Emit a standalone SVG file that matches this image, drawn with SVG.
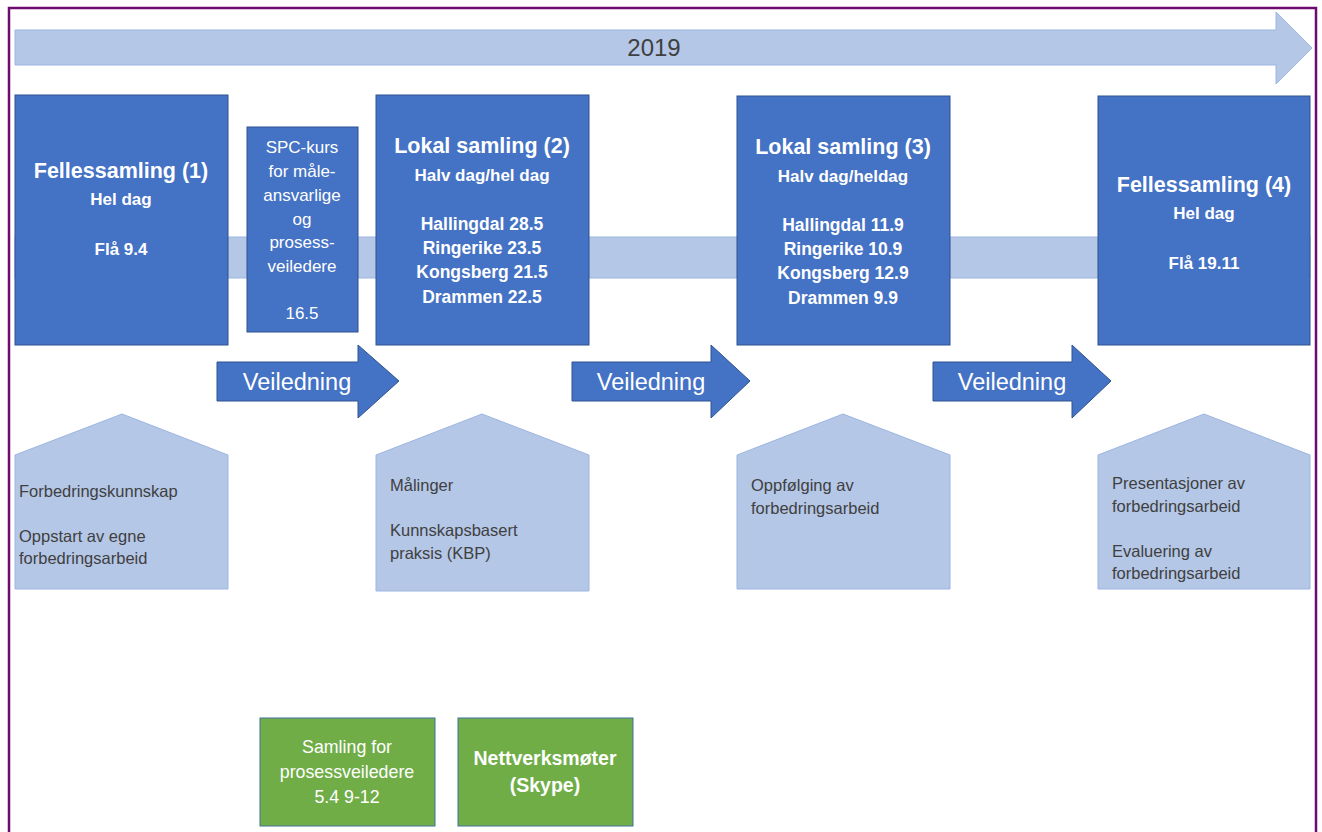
<svg xmlns="http://www.w3.org/2000/svg" width="1322" height="832" viewBox="0 0 1322 832">
<style>
.bg{fill:#ffffff}
.light{fill:#B4C7E7;stroke:#9DB5E0;stroke-width:1}
.box{fill:#4472C4;stroke:#2F528F;stroke-width:1}
.green{fill:#70AD47;stroke:#41719C;stroke-width:1}
text{font-family:"Liberation Sans",Arial,sans-serif}
.t{fill:#ffffff;text-anchor:middle}
.b{font-weight:bold}
.p{fill:#404040;font-size:16.5px}
.v{fill:#ffffff;font-size:23.5px;text-anchor:middle}
</style>
<rect class="bg" x="0" y="0" width="1322" height="832"/>
<rect x="9" y="8" width="1307" height="840" fill="none" stroke="#6E0C6E" stroke-width="2.5"/>
<g id="timeline">
<polygon class="light" points="15,30 1276,30 1276,12 1312,48 1276,84 1276,65 15,65"/>
<text x="654" y="56" font-size="24" fill="#404040" text-anchor="middle">2019</text>
</g>
<g id="band">
<rect x="15" y="237" width="1295" height="41" fill="#B4C7E7" stroke="#9DB5E0" stroke-width="1"/>
</g>
<g id="box1">
<rect class="box" x="15" y="95" width="213" height="250"/>
<text class="t b" x="121" y="178" font-size="21.5">Fellessamling (1)</text>
<text class="t b" x="121" y="205" font-size="17">Hel dag</text>
<text class="t b" x="121" y="255" font-size="17">Flå 9.4</text>
</g>
<g id="spc">
<rect class="box" x="247" y="127" width="111" height="205"/>
<g class="t" font-size="17">
<text x="302" y="153">SPC-kurs</text>
<text x="302" y="177">for måle-</text>
<text x="302" y="201">ansvarlige</text>
<text x="302" y="225">og</text>
<text x="302" y="248">prosess-</text>
<text x="302" y="272">veiledere</text>
<text x="302" y="319">16.5</text>
</g>
</g>
<g id="box2">
<rect class="box" x="376" y="95" width="213" height="250"/>
<text class="t b" x="482" y="153" font-size="21.5">Lokal samling (2)</text>
<text class="t b" x="482" y="181" font-size="17">Halv dag/hel dag</text>
<g class="t b" font-size="17.5">
<text x="482" y="230">Hallingdal 28.5</text>
<text x="482" y="254">Ringerike 23.5</text>
<text x="482" y="278">Kongsberg 21.5</text>
<text x="482" y="303">Drammen 22.5</text>
</g>
</g>
<g id="box3">
<rect class="box" x="737" y="96" width="213" height="249"/>
<text class="t b" x="843" y="154" font-size="21.5">Lokal samling (3)</text>
<text class="t b" x="843" y="182" font-size="17">Halv dag/heldag</text>
<g class="t b" font-size="17.5">
<text x="843" y="231">Hallingdal 11.9</text>
<text x="843" y="255">Ringerike 10.9</text>
<text x="843" y="279">Kongsberg 12.9</text>
<text x="843" y="304">Drammen 9.9</text>
</g>
</g>
<g id="box4">
<rect class="box" x="1098" y="96" width="212" height="249"/>
<text class="t b" x="1204" y="192" font-size="21.5">Fellessamling (4)</text>
<text class="t b" x="1204" y="219" font-size="17">Hel dag</text>
<text class="t b" x="1204" y="269" font-size="17">Flå 19.11</text>
</g>
<g id="connectors">
<g id="arrow1">
<polygon class="box" points="217,362 358,362 358,345 399,381 358,418 358,401 217,401"/>
<text class="v" x="297" y="390">Veiledning</text>
</g>
<g id="arrow2">
<polygon class="box" points="572,362 711,362 711,345 750,381 711,418 711,401 572,401"/>
<text class="v" x="651" y="390">Veiledning</text>
</g>
<g id="arrow3">
<polygon class="box" points="933,362 1072,362 1072,345 1111,381 1072,418 1072,401 933,401"/>
<text class="v" x="1012" y="390">Veiledning</text>
</g>
</g>
<g id="pent1">
<polygon class="light" points="15,455 122,414 228,455 228,589 15,589"/>
<text class="p" x="19" y="497">Forbedringskunnskap</text>
<text class="p" x="19" y="542">Oppstart av egne</text>
<text class="p" x="19" y="564">forbedringsarbeid</text>
</g>
<g id="pent2">
<polygon class="light" points="376,455 482,414 589,455 589,591 376,591"/>
<text class="p" x="390" y="491">Målinger</text>
<text class="p" x="390" y="536">Kunnskapsbasert</text>
<text class="p" x="390" y="559">praksis (KBP)</text>
</g>
<g id="pent3">
<polygon class="light" points="737,455 843,414 950,455 950,589 737,589"/>
<text class="p" x="751" y="491">Oppfølging av</text>
<text class="p" x="751" y="514">forbedringsarbeid</text>
</g>
<g id="pent4">
<polygon class="light" points="1098,455 1204,414 1310,455 1310,589 1098,589"/>
<text class="p" x="1112" y="489">Presentasjoner av</text>
<text class="p" x="1112" y="512">forbedringsarbeid</text>
<text class="p" x="1112" y="557">Evaluering av</text>
<text class="p" x="1112" y="579">forbedringsarbeid</text>
</g>
<g id="green1">
<rect class="green" x="260" y="718" width="175" height="108"/>
<g class="t" font-size="17.8">
<text x="347" y="753">Samling for</text>
<text x="347" y="778">prosessveiledere</text>
<text x="347" y="803">5.4 9-12</text>
</g>
</g>
<g id="green2">
<rect class="green" x="458" y="718" width="175" height="108"/>
<text class="t b" x="545" y="765" font-size="19.5">Nettverksmøter</text>
<text class="t b" x="545" y="792" font-size="19.5">(Skype)</text>
</g>
</svg>
